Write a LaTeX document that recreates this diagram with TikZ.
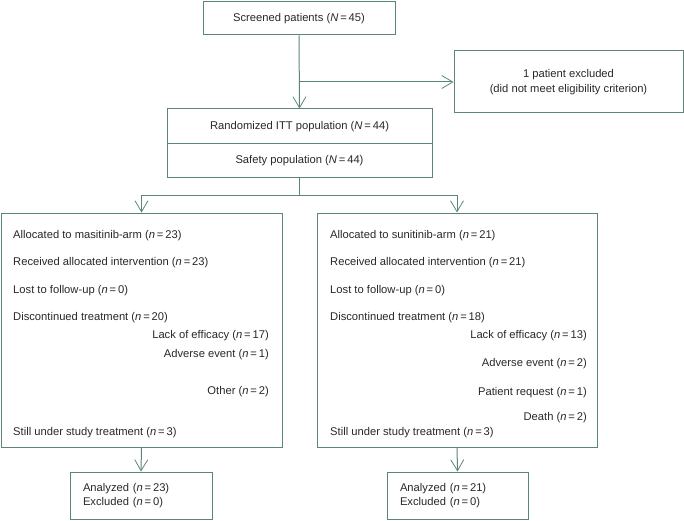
\documentclass[tikz,border=0pt]{standalone}
\usepackage{fontspec}
\setmainfont{Liberation Sans}
\usetikzlibrary{arrows.meta}
\definecolor{boxgreen}{RGB}{92,134,116}
\definecolor{txtgray}{RGB}{40,40,40}
\newcommand{\nval}[1]{(\textit{n}\,=\,#1)}
\newcommand{\Nval}[1]{(\textit{N}\,=\,#1)}

\begin{document}
\begin{tikzpicture}[x=1pt,y=-1pt,font=\fontsize{11.2}{14}\selectfont,text=txtgray,
  box/.style={draw=boxgreen,line width=1pt,inner sep=0pt},
  arr/.style={draw=boxgreen,line width=1pt,-{Straight Barb[length=11pt,width=13pt,line width=0.8pt]}},
  txt/.style={inner sep=0pt}]
\useasboundingbox (0,0) rectangle (684,521);

\node[box,minimum width=192,minimum height=33] (screen) at (299,18.5){Screened patients \Nval{45}};
\node[box,minimum width=229,minimum height=62,align=center] (excl) at (568.5,82){1 patient excluded\\[1pt](did not meet eligibility criterion)};
\node[box,minimum width=265,minimum height=35] (itt) at (299.5,126.5){Randomized ITT population \Nval{44}};
\node[box,minimum width=265,minimum height=34] (safety) at (299.5,161){Safety population \Nval{44}};

\node[box,minimum width=281,minimum height=234] (armL) at (141.5,330){};
\node[box,minimum width=280,minimum height=234] (armR) at (457,330){};

\node[box,minimum width=142,minimum height=47,text width=116,align=left] (anaL) at (141,495.5){Analyzed \nval{23}\\Excluded \nval{0}};
\node[box,minimum width=141,minimum height=47,text width=115,align=left] (anaR) at (457.5,495.5){Analyzed \nval{21}\\Excluded \nval{0}};

% masitinib arm
\node[txt,anchor=west] (lA) at (13,236){Allocated to masitinib-arm \nval{23}};
\node[txt,anchor=west] (lB) at (13,263){Received allocated intervention \nval{23}};
\node[txt,anchor=west] (lC) at (13,291){Lost to follow-up \nval{0}};
\node[txt,anchor=west] (lD) at (13,318){Discontinued treatment \nval{20}};
\node[txt,anchor=east] (lE) at (269,336){Lack of efficacy \nval{17}};
\node[txt,anchor=east] (lF) at (269,355){Adverse event \nval{1}};
\node[txt,anchor=east] (lG) at (269,392){Other \nval{2}};
\node[txt,anchor=west] (lH) at (13,433){Still under study treatment \nval{3}};

% sunitinib arm
\node[txt,anchor=west] (rA) at (330,236){Allocated to sunitinib-arm \nval{21}};
\node[txt,anchor=west] (rB) at (330,263){Received allocated intervention \nval{21}};
\node[txt,anchor=west] (rC) at (330,291){Lost to follow-up \nval{0}};
\node[txt,anchor=west] (rD) at (330,318){Discontinued treatment \nval{18}};
\node[txt,anchor=east] (rE) at (587,336){Lack of efficacy \nval{13}};
\node[txt,anchor=east] (rF) at (587,364){Adverse event \nval{2}};
\node[txt,anchor=east] (rG) at (587,393){Patient request \nval{1}};
\node[txt,anchor=east] (rH) at (587,418){Death \nval{2}};
\node[txt,anchor=west] (rI) at (330,433){Still under study treatment \nval{3}};

\coordinate (split) at (299.5,196);

\draw[arr] (screen.south) -- (itt.north);
\draw[arr] (screen.south |- excl.west) -- (excl.west);
\draw[arr] (safety.south) -- (split) -| (armL.north);
\draw[arr] (split) -| (armR.north);
\draw[arr] (armL.south) -- (anaL.north);
\draw[arr] (armR.south) -- (anaR.north);
\end{tikzpicture}
\end{document}
